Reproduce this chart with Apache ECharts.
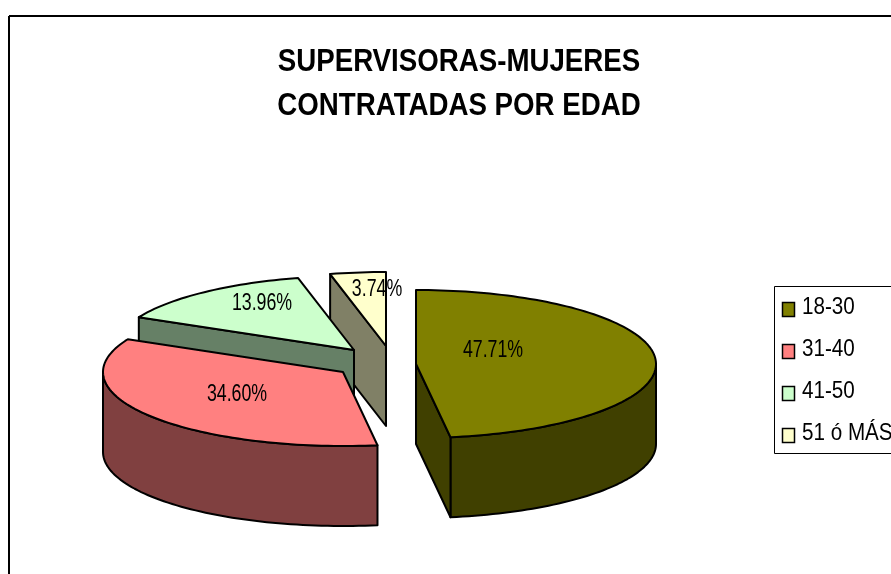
<!DOCTYPE html>
<html><head><meta charset="utf-8">
<style>html,body{margin:0;padding:0;background:#fff;overflow:hidden}#c{width:891px;height:574px}</style>
<script src="https://cdn.jsdelivr.net/npm/echarts@6/dist/echarts.min.js"></script>
</head><body><div id="c"></div>
<script>
const categories = ['18-30', '31-40', '41-50', '51 ó MÁS'];
const values = [47.71, 34.60, 13.96, 3.74];
const topColors = ['#808000', '#FF8080', '#CCFFCC', '#FFFFCC'];
const wallColors = ['#404000', '#804040', '#668066', '#808066'];
const titleLines = ['SUPERVISORAS-MUJERES', 'CONTRATADAS POR EDAD'];

// layout of the exploded 3D pie
const RX = 240, RY = 74, DEPTH = 80;
const apexes = [[416, 364], [343, 372], [354, 350], [386, 346]];
const labelOffsets = [[77, -14], [-106, 22], [-92, -47], [-9, -57]];
const FONT = '"Liberation Sans",Arial,sans-serif';

const total = values.reduce((a, b) => a + b, 0);
const rad = d => d * Math.PI / 180;
let acc = 0;
const spans = values.map(v => { const a0 = acc / total * 360; acc += v; return [a0, acc / total * 360]; });

function rimPoint(apex, deg, drop) {
  return [apex[0] + RX * Math.sin(rad(deg)), apex[1] - RY * Math.cos(rad(deg)) + drop];
}
function arc(apex, a0, a1, drop) {
  const pts = [], n = Math.max(2, Math.ceil(Math.abs(a1 - a0) / 1.5));
  for (let i = 0; i <= n; i++) pts.push(rimPoint(apex, a0 + (a1 - a0) * i / n, drop));
  return pts;
}
const edge = { stroke: '#000', lineWidth: 2, lineJoin: 'round' };

function makeRender(idx) {
  return function (params, api) {
    const apex = apexes[idx], [a0, a1] = spans[idx], children = [];
    const wall = pts => children.push({ type: 'polygon', shape: { points: pts }, style: Object.assign({ fill: wallColors[idx] }, edge) });
    const down = p => [p[0], p[1] + DEPTH];
    const f0 = Math.max(a0, 90), f1 = Math.min(a1, 270);
    if (f1 > f0) wall(arc(apex, f0, f1, 0).concat(arc(apex, f1, f0, DEPTH)));
    if (a0 > 180 && a0 < 360) { const p = rimPoint(apex, a0, 0); wall([apex, p, down(p), down(apex)]); }
    if (a1 > 0 && a1 < 180) { const p = rimPoint(apex, a1, 0); wall([apex, p, down(p), down(apex)]); }
    children.push({ type: 'polygon', shape: { points: [apex].concat(arc(apex, a0, a1, 0)) }, style: Object.assign({ fill: topColors[idx] }, edge) });
    return { type: 'group', children };
  };
}
function makeLabelRender(idx) {
  return function (params, api) {
    return { type: 'text', x: apexes[idx][0] + labelOffsets[idx][0], y: apexes[idx][1] + labelOffsets[idx][1], scaleX: 0.74,
      style: { text: api.value(0).toFixed(2) + '%', fill: '#000', font: '24px ' + FONT, align: 'center', verticalAlign: 'middle' } };
  };
}

const series = categories.map((name, i) => ({
  type: 'custom', name, coordinateSystem: 'none', z: 5 - i, silent: true,
  renderItem: makeRender(i), data: [[values[i]]]
})).concat(categories.map((name, i) => ({
  type: 'custom', coordinateSystem: 'none', z: 10, silent: true,
  renderItem: makeLabelRender(i), data: [[values[i]]]
})));

// legend: condensed lettering needs scaled text, so it is laid out from the category list
const LEG_X = 774.5, LEG_Y = 286.5, LEG_H = 167, LEG_STEP = 42, LEG_FIRST = 21;
const legendEls = [{ type: 'polyline', z: 20, shape: { points: [[891, LEG_Y], [LEG_X, LEG_Y], [LEG_X, LEG_Y + LEG_H], [891, LEG_Y + LEG_H]] }, style: { fill: '#fff', stroke: '#000', lineWidth: 1 } }];
categories.forEach((name, i) => {
  const cy = LEG_Y + LEG_FIRST + i * LEG_STEP;
  legendEls.push({ type: 'rect', z: 21, shape: { x: LEG_X + 8, y: cy - 5, width: 12, height: 14 }, style: { fill: topColors[i], stroke: '#000', lineWidth: 1.5 } });
  legendEls.push({ type: 'text', z: 21, x: LEG_X + 27.5, y: cy, scaleX: 0.86, style: { text: name, fill: '#000', font: '24px ' + FONT, align: 'left', verticalAlign: 'middle' } });
});
const titleEls = titleLines.map((t, i) => ({ type: 'text', z: 21, x: 459, y: 62 + i * 44, scaleX: 0.865,
  style: { text: t, fill: '#000', font: 'bold 32px ' + FONT, align: 'center', verticalAlign: 'middle' } }));

const chart = echarts.init(document.getElementById('c'), null, { renderer: 'canvas' });
chart.setOption({
  animation: false,
  backgroundColor: '#fff',
  graphic: [
    { type: 'line', shape: { x1: 9, y1: 16, x2: 891, y2: 16 }, style: { stroke: '#000', lineWidth: 2 } },
    { type: 'line', shape: { x1: 9, y1: 16, x2: 9, y2: 574 }, style: { stroke: '#000', lineWidth: 2 } }
  ].concat(titleEls, legendEls),
  series
});
</script></body></html>
